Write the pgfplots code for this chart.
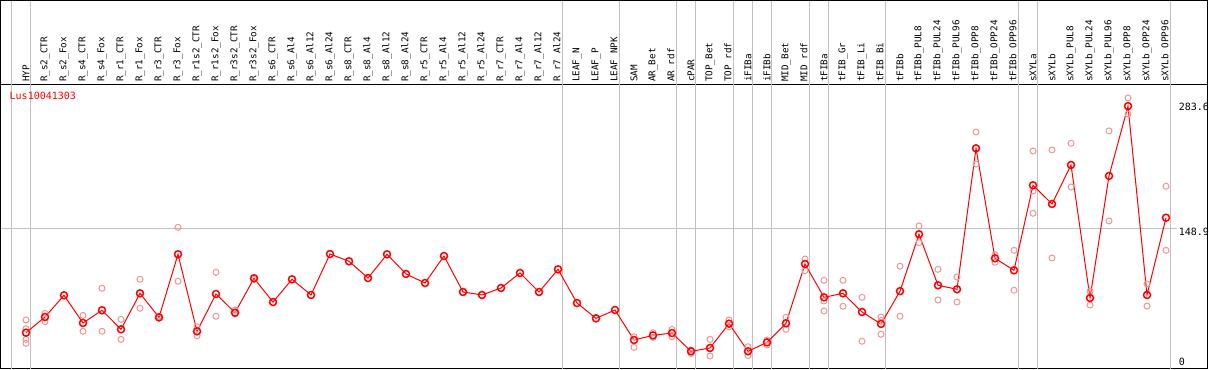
\documentclass[border=0pt]{standalone}
\usepackage{fontspec}
\usepackage{pgfplots}
\pgfplotsset{compat=1.18}
\setmonofont{DejaVu Sans Mono}
\definecolor{gridgray}{RGB}{192,192,192}
\definecolor{rep}{RGB}{238,150,150}
\begin{document}
\begin{tikzpicture}
\begin{axis}[
  scale only axis,
  width=1206pt, height=284pt,
  xmin=-1.3158, xmax=62.158,
  ymin=-6.62, ymax=306.9,
  axis line style={black, line width=1pt},
  xtick={0,...,60},
  xticklabels={HYP,R\_s2\_CTR,R\_s2\_Fox,R\_s4\_CTR,R\_s4\_Fox,R\_r1\_CTR,R\_r1\_Fox,R\_r3\_CTR,R\_r3\_Fox,R\_r1s2\_CTR,R\_r1s2\_Fox,R\_r3s2\_CTR,R\_r3s2\_Fox,R\_s6\_CTR,R\_s6\_Al4,R\_s6\_Al12,R\_s6\_Al24,R\_s8\_CTR,R\_s8\_Al4,R\_s8\_Al12,R\_s8\_Al24,R\_r5\_CTR,R\_r5\_Al4,R\_r5\_Al12,R\_r5\_Al24,R\_r7\_CTR,R\_r7\_Al4,R\_r7\_Al12,R\_r7\_Al24,LEAF\_N,LEAF\_P,LEAF\_NPK,SAM,AR\_Bet,AR\_rdf,cPAR,TOP\_Bet,TOP\_rdf,iFIBa,iFIBb,MID\_Bet,MID\_rdf,tFIBa,tFIB\_Gr,tFIB\_Li,tFIB\_Bi,tFIBb,tFIBb\_PUL8,tFIBb\_PUL24,tFIBb\_PUL96,tFIBb\_OPP8,tFIBb\_OPP24,tFIBb\_OPP96,sXYLa,sXYLb,sXYLb\_PUL8,sXYLb\_PUL24,sXYLb\_PUL96,sXYLb\_OPP8,sXYLb\_OPP24,sXYLb\_OPP96},
  xticklabel pos=upper,
  major tick length=0pt,
  xticklabel style={rotate=90, anchor=west, font=\ttfamily\fontsize{9.3}{10}\selectfont, inner sep=0pt},
  xticklabel shift=3pt,
  ytick=\empty,
  clip=false,
]
\coordinate (SW) at (rel axis cs:0,0);
\coordinate (NW) at (rel axis cs:0,1);
\coordinate (NE) at (rel axis cs:1,1);
\pgfplotsinvokeforeach{-0.763,0.237,28.237,31.237,34.237,35.237,37.237,38.237,39.237,41.237,42.237,45.237,52.237,53.237,60.237}{
  \draw[gridgray, line width=1pt] (axis cs:#1,-6.62) -- (axis cs:#1,400.8);
}
\draw[gridgray, line width=1pt] (axis cs:-1.3158,148.9) -- (axis cs:60.58,148.9);

\addplot[only marks, mark=o, mark size=3pt, rep, mark options={line width=1pt}] coordinates {
(0,47.5)(0,37.9)(0,26.1)(0,21.7)
(1,54.8)(1,45.6)
(3,52.6)(3,35)
(4,82.5)(4,35)
(5,48.2)(5,26.1)
(6,92.4)(6,60.4)
(7,51.5)(7,49.5)
(8,149.8)(8,90.2)
(9,40)(9,30)
(10,100.1)(10,51.6)
(11,58.5)(11,54)
(12,94.5)(12,92.3)
(32,29)(32,17.3)
(33,33.4)(33,28.4)
(34,37)(34,29)
(35,14.4)(35,10.5)
(36,26.1)(36,7.7)
(37,47.5)(37,40)
(38,18)(38,8.1)
(39,25.4)(39,19.9)
(40,50.4)(40,37.2)
(41,114.8)(41,101.9)
(42,91.3)(42,68.5)(42,57.4)
(43,91.3)(43,62.6)
(44,72.5)(44,24)
(45,50.8)(45,47)(45,31.7)
(46,106.8)(46,51.6)
(47,151.3)(47,132.8)
(48,103.4)(48,69.6)
(49,95)(49,67.3)
(50,255)(50,219.7)
(51,119.6)(51,111.2)
(52,124.4)(52,80.3)
(53,234)(53,189.9)(53,165.3)
(54,235.2)(54,115.9)
(55,242.6)(55,194.3)
(56,79.2)(56,64)
(57,256.2)(57,156.8)
(58,292.6)(58,274.9)
(59,87.2)(59,62.9)
(60,195.1)(60,124.4)
};

\addplot[red, line width=1pt, mark=o, mark size=3.5pt, mark options={line width=1.5pt}] coordinates {
(0,33.5)(1,50.8)(2,74.7)(3,44.2)(4,58.2)(5,37.2)(6,76.9)(7,50.4)(8,120.0)(9,35.0)
(10,76.2)(11,55.6)(12,93.5)(13,67.3)(14,92.4)(15,75.1)(16,120.3)(17,112.3)(18,93.8)(19,120.0)
(20,98.3)(21,88.3)(22,118.1)(23,78.4)(24,75.1)(25,82.8)(26,99.4)(27,78.4)(28,103.4)(29,66.2)
(30,49.3)(31,58.5)(32,25.4)(33,30.5)(34,33.1)(35,12.9)(36,16.6)(37,43.4)(38,12.9)(39,22.8)
(40,43.8)(41,109.3)(42,72.5)(43,76.9)(44,56.3)(45,43.1)(46,79.3)(47,142.1)(48,85.8)(49,81.4)
(50,237.0)(51,115.6)(52,102.3)(53,196.2)(54,175.6)(55,218.6)(56,71.8)(57,206.5)(58,283.6)(59,75.1)
(60,160.4)
};

\node[anchor=north west, inner sep=0pt, text=red, font=\ttfamily\fontsize{10}{11}\selectfont] at (axis cs:-0.868,299.2) {Lus10041303};
\node[anchor=west, inner sep=0pt, font=\ttfamily\fontsize{10}{11}\selectfont] at (axis cs:60.668,283.0) {283.6};
\node[anchor=west, inner sep=0pt, font=\ttfamily\fontsize{10}{11}\selectfont] at (axis cs:60.668,144.6) {148.9};
\node[anchor=west, inner sep=0pt, font=\ttfamily\fontsize{10}{11}\selectfont] at (axis cs:60.668,1.1) {0};
\end{axis}
\draw[black, line width=1pt] (NW) -- ([yshift=84.5pt]NW) -| (NE);
\pgfresetboundingbox
\path ([xshift=-1pt,yshift=-1pt]SW) rectangle ([xshift=2pt,yshift=85pt]NE);
\end{tikzpicture}
\end{document}
